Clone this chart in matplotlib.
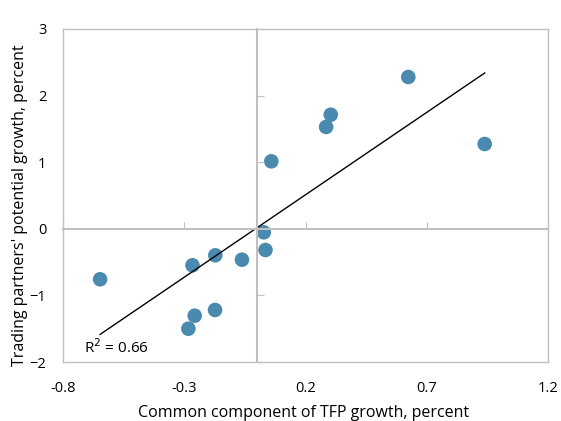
import numpy as np
import matplotlib
matplotlib.use("Agg")
import matplotlib.pyplot as plt

plt.rcParams['font.family'] = ['Open Sans', 'DejaVu Sans']

tfp_growth = [-0.647, -0.266, -0.172, -0.062, -0.257, -0.283, -0.173,
              0.028, 0.035, 0.059, 0.285, 0.304, 0.624, 0.939]
partner_growth = [-0.758, -0.548, -0.398, -0.464, -1.305, -1.50, -1.219,
                  -0.053, -0.318, 1.013, 1.529, 1.713, 2.279, 1.273]
x_ticks = [-0.8, -0.3, 0.2, 0.7, 1.2]
y_ticks = [-2, -1, 0, 1, 2, 3]
r2_label = "R$^2$ = 0.66"

fig = plt.figure(figsize=(5.61, 4.21), dpi=100)
ax = fig.add_axes([63/561, 1-362/421, (548-63)/561, (362-29)/421])
ax.set_xlim(-0.8, 1.2)
ax.set_ylim(-2, 3)
ax.set_xticks(x_ticks)
ax.set_xticklabels([f"{v:g}" for v in x_ticks])
ax.set_yticks(y_ticks)
ax.tick_params(length=0, labelsize=10.5, colors='black')
ax.tick_params(axis='x', pad=14)
ax.tick_params(axis='y', pad=12)
for s in ax.spines.values():
    s.set_color('#c0c0c0')
    s.set_linewidth(1.0)

# zero-line axes with ticks
ax2 = fig.add_axes(ax.get_position(), sharex=ax, sharey=ax)
ax2.patch.set_visible(False)
ax2.spines['top'].set_visible(False)
ax2.spines['right'].set_visible(False)
ax2.spines['left'].set_position(('data', 0))
ax2.spines['bottom'].set_position(('data', 0))
for k in ('left', 'bottom'):
    ax2.spines[k].set_color('#c0c0c0')
    ax2.spines[k].set_linewidth(1.5)
ax2.tick_params(direction='in', length=5, width=0.8, color='#c0c0c0',
                labelleft=False, labelbottom=False)

ax.scatter(tfp_growth, partner_growth, s=110, color='#4a8aae', edgecolors='none', zorder=3)

x = np.array(tfp_growth)
y = np.array(partner_growth)
m, b = np.polyfit(x, y, 1)
xs = np.array([x.min(), x.max()])
ax.plot(xs, m*xs + b, color='black', lw=1.0, zorder=4)

ax.text(-0.713, -1.79, r2_label, ha='left', va='center', fontsize=11)

ax.set_xlabel("Common component of TFP growth, percent", fontsize=11.5, labelpad=6)
ax.set_ylabel("Trading partners' potential growth, percent", fontsize=11.5, labelpad=4)
ax.yaxis.set_label_coords(-0.072, 0.47)
ax.xaxis.set_label_coords(0.497, -0.13)

fig.savefig("out.png", dpi=100)
